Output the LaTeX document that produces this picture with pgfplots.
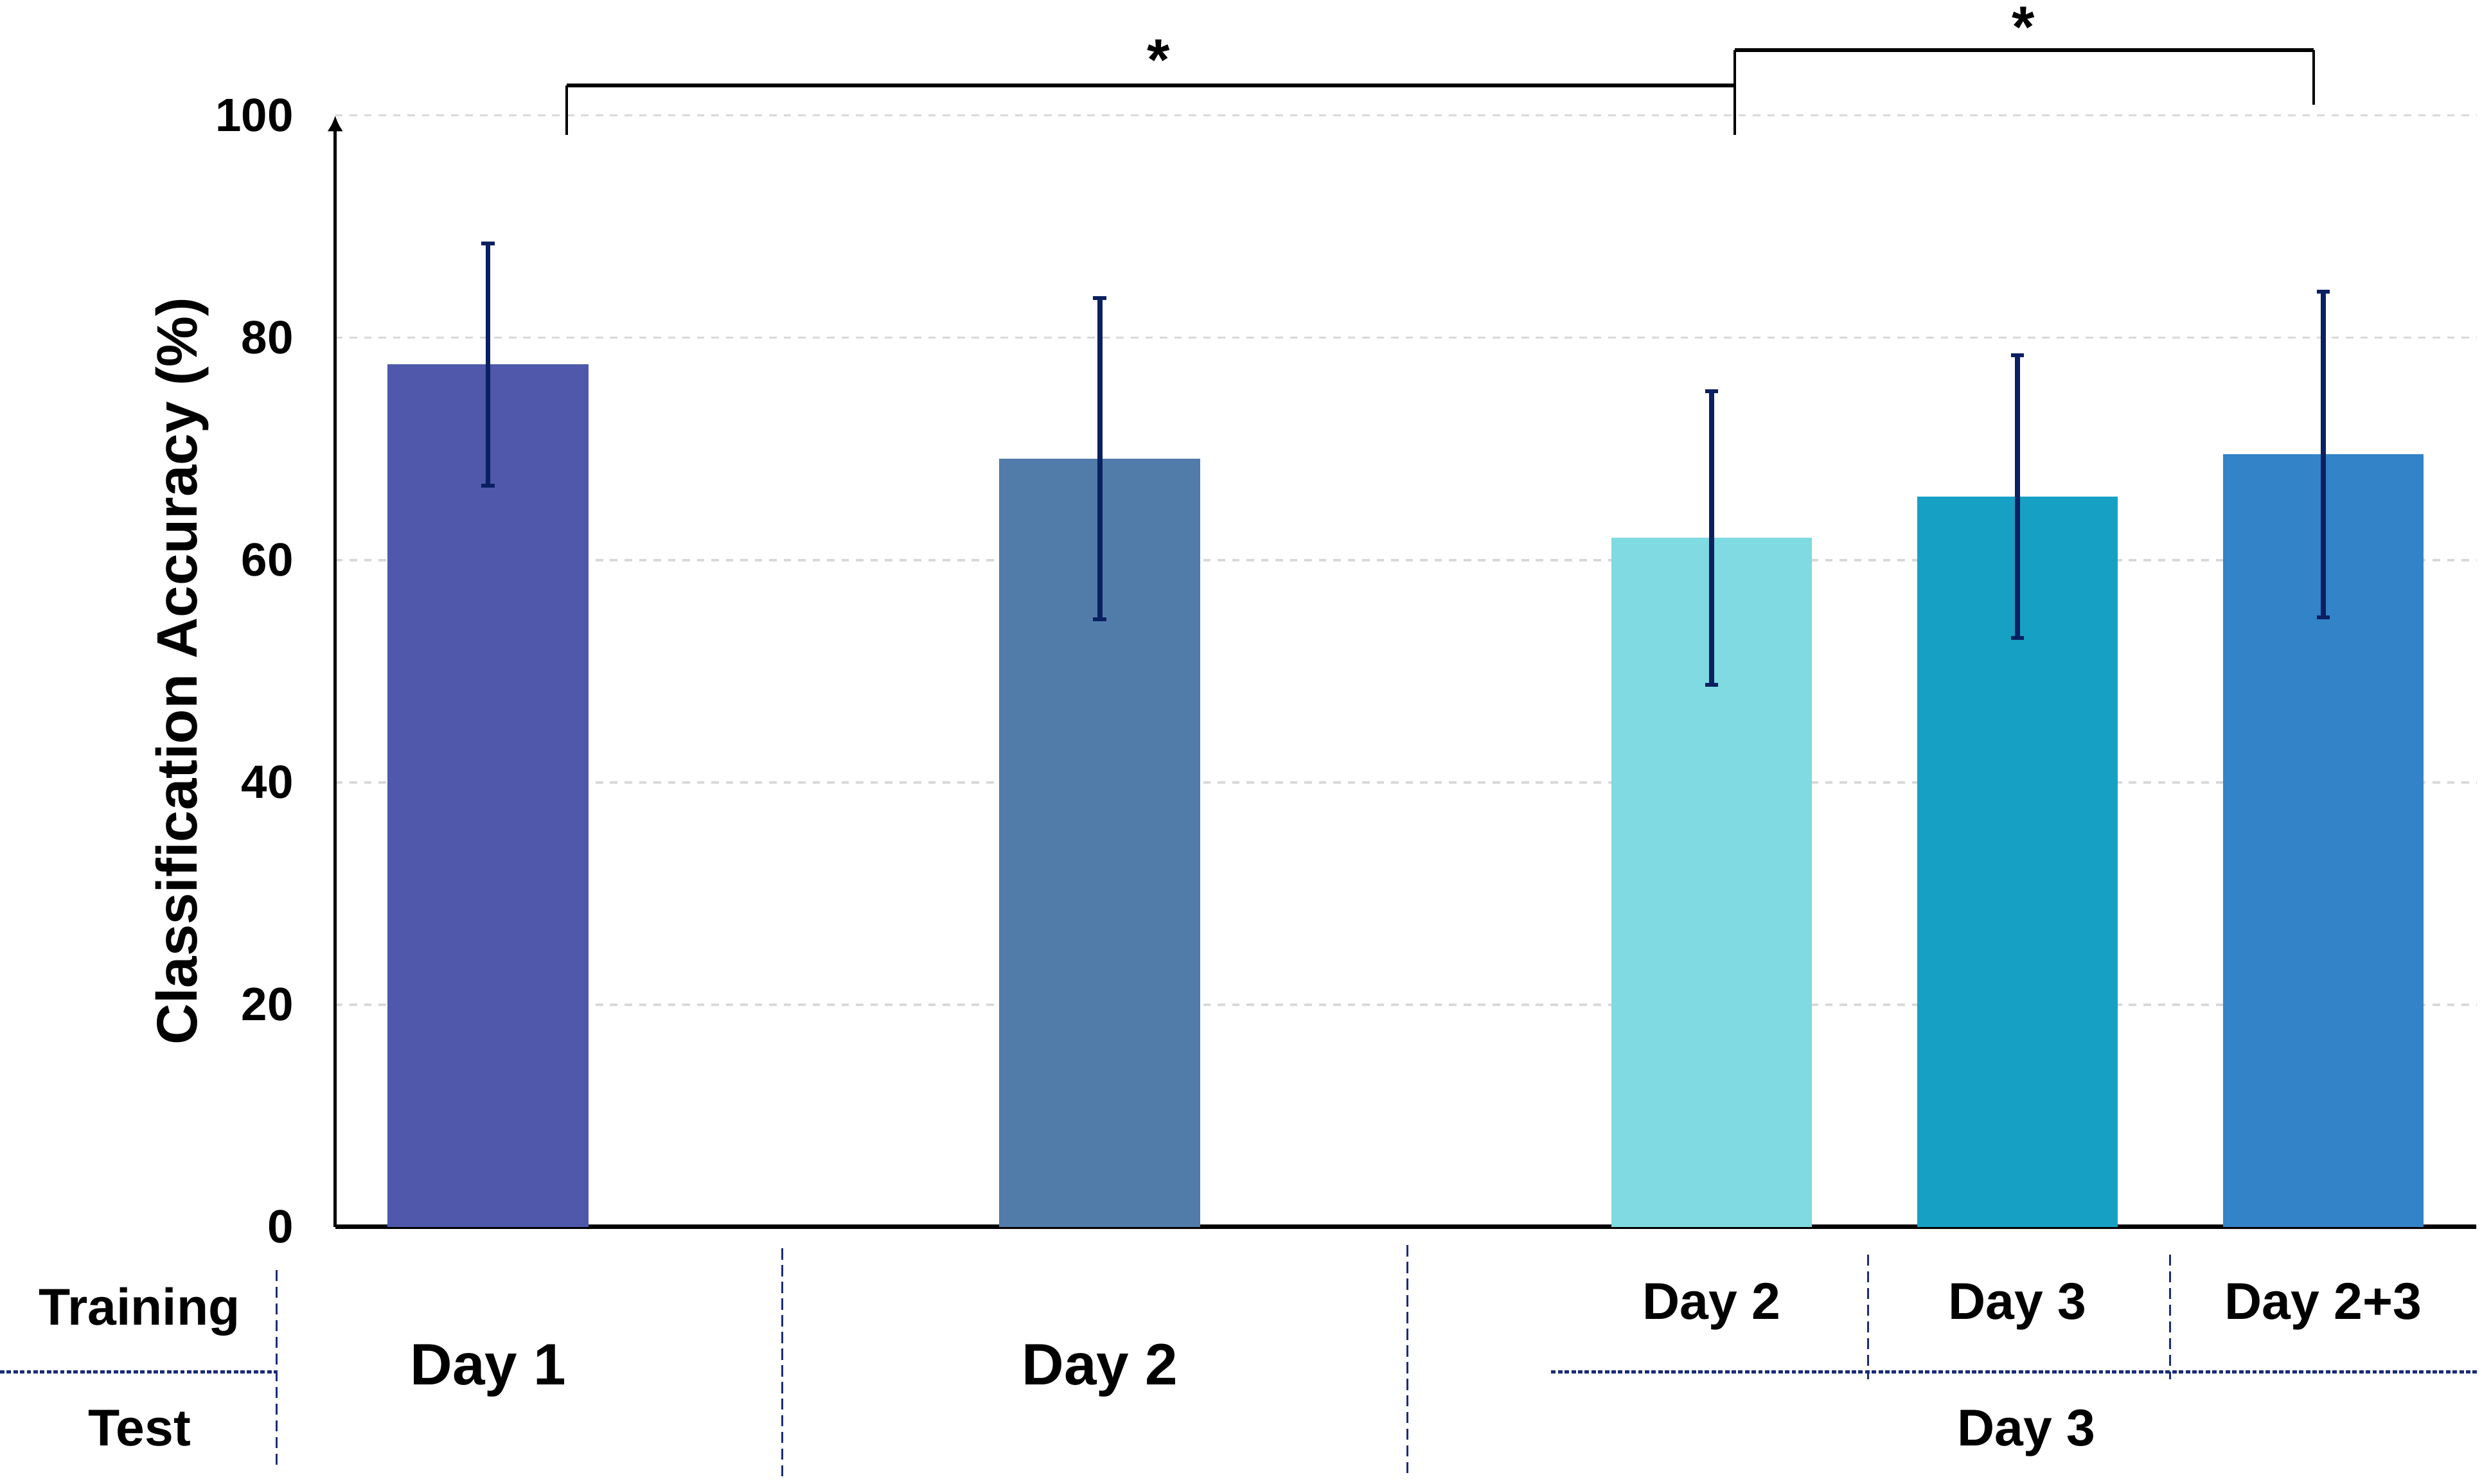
\documentclass[border=0pt]{standalone}
\usepackage{fontspec}
\setmainfont{Liberation Sans}
\usepackage{pgfplots}
\pgfplotsset{compat=1.18}
\usetikzlibrary{arrows.meta}
\definecolor{c1}{HTML}{4F58AB}
\definecolor{c2}{HTML}{517CAA}
\definecolor{c3}{HTML}{7FDAE1}
\definecolor{c4}{HTML}{16A0C4}
\definecolor{c5}{HTML}{3383C9}
\definecolor{errc}{HTML}{0A2060}
\definecolor{gridc}{HTML}{D9D9D9}
\definecolor{tabc}{HTML}{1A2C78}
\newcommand{\lowlab}[1]{\raisebox{-4.14mm}[0pt][0pt]{\fontsize{10.5}{12}\selectfont\bfseries #1}}
\begin{document}
\begin{tikzpicture}
\begin{axis}[
  scale only axis,
  width=135.25mm, height=70.22mm,
  xmin=-0.5, xmax=6.5, ymin=0, ymax=100,
  axis y line=left,
  axis x line*=bottom,
  y axis line style={line width=0.55pt, -{Latex[length=1mm,width=1mm]}},
  x axis line style={line width=0.8pt},
  ytick={0,20,40,60,80,100},
  xtick={0,2,4,5,6},
  xticklabels={\lowlab{Day 1},\lowlab{Day 2},Day 2,Day 3,Day 2+3},
  major tick length=0pt,
  ymajorgrids,
  major grid style={color=gridc, line width=0.4pt, dash pattern=on 1.35pt off 1.25pt},
  /pgf/number format/assume math mode=true,
  yticklabel style={font=\fontsize{8.4}{10}\selectfont\bfseries, xshift=-1.4mm},
  xticklabel style={font=\fontsize{9.3}{11}\selectfont\bfseries, anchor=base, yshift=-5.82mm},
  ylabel={Classification Accuracy (\%)},
  every axis y label/.style={at={(rel axis cs:-0.0714,0.5)}, rotate=90, anchor=center, font=\fontsize{10.25}{12}\selectfont\bfseries},
  ybar, bar width=0.657,
  clip=false,
  error bars/y dir=both, error bars/y explicit,
  error bars/error bar style={line width=0.85pt, color=errc},
  error bars/error mark options={line width=0.7pt, mark size=0.42mm, color=errc, rotate=90},
]
\addplot[fill=c1, draw=none, bar shift=0pt] coordinates {(0,77.6) +- (0,10.9)};
\addplot[fill=c2, draw=none, bar shift=0pt] coordinates {(2,69.1) +- (0,14.45)};
\addplot[fill=c3, draw=none, bar shift=0pt] coordinates {(4,62.0) +- (0,13.2)};
\addplot[fill=c4, draw=none, bar shift=0pt] coordinates {(5,65.7) +- (0,12.7)};
\addplot[fill=c5, draw=none, bar shift=0pt] coordinates {(6,69.5) +- (0,14.65)};

% significance brackets
\draw[line width=0.4pt] (axis cs:0.257,98.25) -- (axis cs:0.257,102.7);
\draw[line width=0.7pt] (axis cs:0.257,102.7) -- (axis cs:4.076,102.7);
\draw[line width=0.4pt] (axis cs:4.076,98.25) -- (axis cs:4.076,105.9);
\draw[line width=0.7pt] (axis cs:4.076,105.9) -- (axis cs:5.969,105.9);
\draw[line width=0.4pt] (axis cs:5.969,105.9) -- (axis cs:5.969,100.96);
\node[anchor=base, inner sep=0pt, font=\fontsize{10.5}{12}\selectfont\bfseries] at (axis cs:2.192,103.22) {*};
\node[anchor=base, inner sep=0pt, font=\fontsize{10.5}{12}\selectfont\bfseries] at (axis cs:5.019,106.16) {*};

% table below the axis
\draw[tabc, line width=0.6pt, dash pattern=on 0.8pt off 0.4pt] (axis cs:-1.596,-13.06) -- (axis cs:-0.691,-13.06);
\draw[tabc, line width=0.6pt, dash pattern=on 0.8pt off 0.4pt] (axis cs:3.476,-13.06) -- (axis cs:6.505,-13.06);
\draw[tabc, line width=0.35pt, dash pattern=on 2pt off 1pt] (axis cs:-0.691,-3.89) -- (axis cs:-0.691,-21.87);
\draw[tabc, line width=0.35pt, dash pattern=on 2pt off 1pt] (axis cs:0.961,-1.94) -- (axis cs:0.961,-22.7);
\draw[tabc, line width=0.35pt, dash pattern=on 2pt off 1pt] (axis cs:3.005,-1.65) -- (axis cs:3.005,-22.66);
\draw[tabc, line width=0.35pt, dash pattern=on 2pt off 1pt] (axis cs:4.511,-2.5) -- (axis cs:4.511,-13.7);
\draw[tabc, line width=0.35pt, dash pattern=on 2pt off 1pt] (axis cs:5.50,-2.5) -- (axis cs:5.50,-13.7);
\node[anchor=base, font=\fontsize{9.3}{11}\selectfont\bfseries] at (axis cs:-1.14,-8.81) {Training};
\node[anchor=base, font=\fontsize{9.3}{11}\selectfont\bfseries] at (axis cs:-1.14,-19.67) {Test};
\node[anchor=base, font=\fontsize{9.3}{11}\selectfont\bfseries] at (axis cs:5.03,-19.67) {Day 3};

\coordinate (bl) at (axis cs:-1.596,-23.08);
\coordinate (tr) at (axis cs:6.519,110.39);
\end{axis}
\pgfresetboundingbox
\path (bl) rectangle (tr);
\end{tikzpicture}
\end{document}
